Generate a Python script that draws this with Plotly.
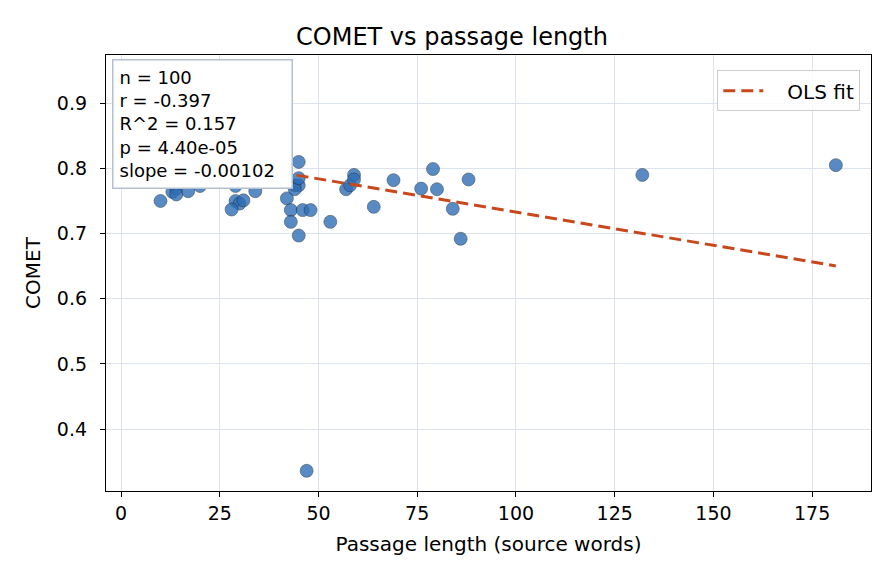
import plotly.graph_objects as go

# Passage length (source words) and COMET score per passage
passage_len = [
    10, 13, 14, 14, 14, 17, 18, 16, 20, 29, 34, 29, 30, 31, 28,
    45, 44, 45, 44, 45, 42, 43, 46, 48, 43, 45, 53, 57, 58, 59,
    59, 64, 69, 76, 79, 80, 84, 88, 86, 132, 181, 47,
    5, 9, 7, 9, 10, 14, 15, 5, 10, 14, 19, 21, 17, 20, 24, 13,
    17, 21, 16, 22, 14, 18, 31, 33, 36, 29, 26, 4, 4, 10, 9, 12, 20,
    6, 11, 12, 7, 19, 24, 26, 28, 30, 32, 35, 38, 40, 41, 27, 23,
    11, 13, 17, 19, 25, 37, 15, 8, 21,
]
comet = [
    0.750, 0.764, 0.769, 0.777, 0.760, 0.765, 0.782, 0.779, 0.773, 0.773,
    0.765, 0.750, 0.746, 0.751, 0.737, 0.810, 0.774, 0.774, 0.768, 0.785,
    0.754, 0.736, 0.736, 0.736, 0.718, 0.697, 0.718, 0.768, 0.774, 0.790,
    0.783, 0.741, 0.782, 0.769, 0.799, 0.768, 0.738, 0.783, 0.692, 0.790,
    0.805, 0.336,
    0.935, 0.938, 0.917, 0.892, 0.889, 0.892, 0.877, 0.854, 0.854, 0.854,
    0.856, 0.854, 0.840, 0.836, 0.831, 0.820, 0.816, 0.810, 0.797, 0.797,
    0.800, 0.800, 0.805, 0.797, 0.797, 0.797, 0.820, 0.826, 0.800, 0.811,
    0.846, 0.805, 0.798,
    0.880, 0.870, 0.900, 0.860, 0.870, 0.800, 0.800, 0.810, 0.800, 0.820,
    0.800, 0.800, 0.800, 0.800, 0.850, 0.860, 0.830, 0.840, 0.830, 0.800,
    0.840, 0.810, 0.810, 0.810, 0.820,
]

# OLS fit parameters
slope = -0.00102
intercept = 0.835
stats_lines = ["n = 100", "r = -0.397", "R^2 = 0.157", "p = 4.40e-05", "slope = -0.00102"]

x_ticks = [0, 25, 50, 75, 100, 125, 150, 175]
y_ticks = [0.4, 0.5, 0.6, 0.7, 0.8, 0.9]

font_family = "DejaVu Sans, Liberation Sans, sans-serif"

fig = go.Figure()

# scatter of passages
fig.add_trace(go.Scatter(
    x=passage_len,
    y=comet,
    mode="markers",
    showlegend=False,
    marker=dict(size=13, color="#2f6fb5", opacity=0.8,
                line=dict(color="#1b2a3a", width=0.6)),
))

# fit line over the observed x range
fit_x = [min(passage_len), max(passage_len)]
fit_y = [intercept + slope * v for v in fit_x]
fig.add_trace(go.Scatter(
    x=fit_x,
    y=fit_y,
    mode="lines",
    name="\u00a0\u00a0\u00a0OLS fit",
    line=dict(color="#c9481b", width=3, dash="12px,6px"),
))

axis_style = dict(
    showgrid=True,
    gridcolor="#dde3ec",
    gridwidth=1.2,
    zeroline=False,
    showline=True,
    linecolor="black",
    linewidth=1.3,
    mirror=True,
    ticks="outside",
    ticklen=5,
    tickwidth=1.2,
    tickcolor="black",
    tickfont=dict(size=19, color="black"),
)

fig.update_xaxes(
    **axis_style,
    range=[-3.8, 189.9],
    tickvals=x_ticks,
    title=dict(text="Passage length (source words)", font=dict(size=20, color="black"), standoff=14),
)
fig.update_yaxes(
    **axis_style,
    range=[0.305, 0.974],
    tickvals=y_ticks,
    ticktext=[f"{v:.1f}" for v in y_ticks],
    ticklabelstandoff=9,
    title=dict(text="COMET", font=dict(size=20, color="black"), standoff=10),
)

# stats box in the top-left corner
fig.add_annotation(
    xref="paper", yref="paper",
    x=0.008, y=0.991,
    xanchor="left", yanchor="top",
    text="<br>".join(stats_lines),
    align="left",
    width=166,
    showarrow=False,
    font=dict(size=18, color="black", family=font_family),
    bgcolor="white",
    bordercolor="#b4c0d0",
    borderwidth=1.5,
    borderpad=6,
)

# page body has an 8px margin, so the figure is drawn 8px smaller
fig.update_layout(
    width=888,
    height=576,
    title=dict(text="COMET vs passage length", x=0.5, xanchor="center",
               y=0.950, yanchor="middle", font=dict(size=24, color="black")),
    font=dict(family=font_family, color="black"),
    plot_bgcolor="white",
    paper_bgcolor="white",
    margin=dict(l=98, r=25, t=47, b=93),
    legend=dict(x=0.986, y=0.965, xanchor="right", yanchor="top", itemwidth=40,
                bgcolor="rgba(255,255,255,0.8)", bordercolor="#cccccc", borderwidth=1,
                font=dict(size=20, color="black")),
)

fig.write_html("out.html")
